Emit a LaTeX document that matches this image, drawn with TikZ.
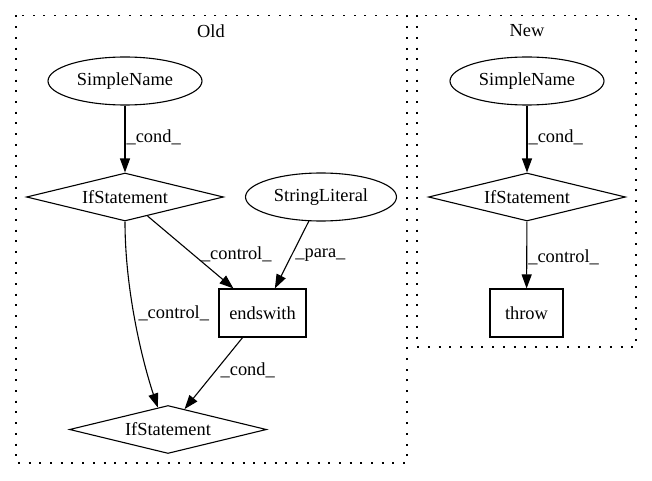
\documentclass[tikz,border=0pt]{standalone}
\usepackage{fontspec}
\setmainfont{Liberation Serif}
\usetikzlibrary{shapes.geometric,arrows.meta}
\begin{document}
\begin{tikzpicture}[x=1pt,y=1pt,
  every node/.style={font=\fontsize{18.4}{20}\selectfont},
  base/.style={draw=black,line width=1.1pt,inner sep=0pt},
  ellnode/.style={base,ellipse,minimum width=154pt,minimum height=48pt},
  dianode/.style={base,diamond,aspect=4,minimum width=197pt,minimum height=48pt},
  boxnode/.style={base,rectangle,minimum height=48pt},
  lbl/.style={inner sep=0pt,anchor=west},
  conn/.style={line width=1.1pt,-{Triangle[length=14pt,width=10pt]}},
  cluster/.style={draw=black,line width=1.3pt,dash pattern=on 2pt off 8.7pt}
]
\useasboundingbox (0,0) rectangle (652,480);
% clusters
\draw[cluster] (16,464.5) rectangle (407,17);
\draw[cluster] (417,464.5) rectangle (636,133);
\node (tOld) at (211,449) {Old};
\node (tNew) at (527,449) {New};
% Old nodes
\node[ellnode] (oSN) at (125,399) {SimpleName};
\node[dianode] (oIf1) at (125,283) {IfStatement};
\node[ellnode,minimum width=151pt] (oSL) at (321,283) {StringLiteral};
\node[boxnode,minimum width=87pt] (oEnd) at (262.5,167) {endswith};
\node[dianode] (oIf2) at (168,50.5) {IfStatement};
% New nodes
\node[ellnode] (nSN) at (527,399) {SimpleName};
\node[dianode] (nIf) at (527,283) {IfStatement};
\node[boxnode,minimum width=73pt] (nThrow) at (526.5,167) {throw};
% Old edges
\draw[conn] (oSN) -- node[lbl,pos=0.5,xshift=1pt,yshift=2pt] {\_cond\_} (oIf1);
\draw[conn] (oIf1) -- node[lbl,pos=0.5,xshift=10pt,yshift=-2.5pt] {\_control\_} (oEnd);
\draw[conn] (oSL) -- node[lbl,pos=0.5,xshift=3pt] {\_para\_} (oEnd);
\draw[conn] (oEnd) -- node[lbl,pos=0.5,xshift=6.5pt,yshift=3.5pt] {\_cond\_} (oIf2);
\draw[conn] (oIf1.south) .. controls (125,190) and (142,120) .. node[lbl,pos=0.5,xshift=2.5pt,yshift=9pt] {\_control\_} (oIf2.115);
% New edges
\draw[conn] (nSN) -- node[lbl,pos=0.5,xshift=1pt,yshift=2pt] {\_cond\_} (nIf);
\draw[conn] (nIf) -- node[lbl,pos=0.5,xshift=1pt,yshift=-2pt] {\_control\_} (nThrow);
\end{tikzpicture}
\end{document}
